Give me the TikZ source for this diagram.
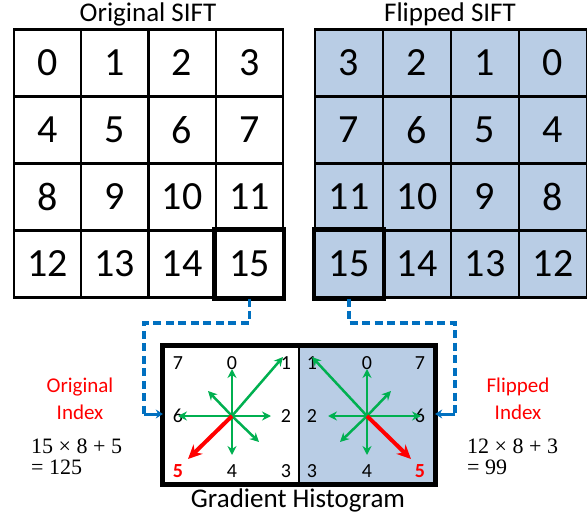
\documentclass[tikz,border=0pt]{standalone}
\usepackage{fontspec}
\setmainfont{Carlito}
\newfontfamily\eqfont{Liberation Serif}
\usetikzlibrary{arrows.meta}
\definecolor{flipblue}{HTML}{B9CDE5}
\definecolor{garrow}{HTML}{00B050}
\definecolor{connblue}{HTML}{0070C0}
\begin{document}
\begin{tikzpicture}[x=1pt,y=-1pt,
  cell/.style={draw=black,line width=2.4pt,minimum width=67.25pt,minimum height=67pt,inner sep=0pt,font=\fontsize{40}{44}\selectfont},
  fcell/.style={cell,fill=flipblue,minimum width=68pt},
  hilite/.style={line width=4.5pt},
  title/.style={font=\fontsize{27}{30}\selectfont,inner sep=0pt},
  histbox/.style={draw=black,line width=2.4pt,minimum width=135pt,minimum height=136pt,inner sep=0pt},
  hlab/.style={font=\fontsize{20}{22}\selectfont,inner sep=0pt},
  rlab/.style={hlab,text=red,font=\fontsize{20}{22}\selectfont\bfseries},
  garr/.style={garrow,line width=2.5pt,-{Stealth[length=9pt,width=9pt,inset=3pt]}},
  rarr/.style={red,line width=4pt,-{Stealth[length=14pt,width=13pt,inset=4.5pt]}},
  bluedash/.style={connblue,line width=3.2pt,dash pattern=on 8pt off 4.5pt},
  bluearr/.style={connblue,line width=3pt,-{Stealth[length=7pt,width=9pt]}},
  idxlab/.style={text=red,font=\fontsize{21}{27}\selectfont,align=center,inner sep=0pt},
  eqlab/.style={font=\eqfont\fontsize{22}{22}\selectfont,anchor=base west,inner sep=0pt}
]
\useasboundingbox (0,0) rectangle (587,516);

% titles
\node[title] (t1) at (148,14) {Original SIFT};
\node[title] (t2) at (450,14) {Flipped SIFT};

% grids
\foreach \r in {0,...,3}{
  \foreach \c in {0,...,3}{
    \pgfmathtruncatemacro\n{4*\r+\c}
    \pgfmathtruncatemacro\m{4*\r+3-\c}
    \node[cell] (o\n) at ({14+67.25*(\c+0.5)},{29.5+67*(\r+0.5)}) {\n};
    \node[fcell] (f\m) at ({315+68*(\c+0.5)},{29.5+67*(\r+0.5)}) {\m};
  }
}
\draw[hilite] (o15.north west) rectangle (o15.south east);
\draw[hilite] (f15.north west) rectangle (f15.south east);

% histogram boxes
\node[histbox] (hl) at (231.5,415) {};
\node[histbox,fill=flipblue] (hr) at (366.5,415) {};
\draw[line width=5pt] (hl.north west) rectangle (hr.south east);
\node[title] (gh) at (298,500) {Gradient Histogram};

% left histogram
\coordinate (cl) at (232,416);
\node[hlab] (l7) at (178,363) {7};
\node[hlab] (l0) at (232,363) {0};
\node[hlab] (l1) at (286,363) {1};
\node[hlab] (l6) at (178,416) {6};
\node[hlab] (l2) at (286,416) {2};
\node[rlab] (l5) at (178,471) {5};
\node[hlab] (l4) at (232,471) {4};
\node[hlab] (l3) at (286,471) {3};
\draw[garr] (cl) -- ++(0,-47);
\draw[garr] (cl) -- ++(51,-59);
\draw[garr] (cl) -- ++(39,0);
\draw[garr] (cl) -- ++(27,26);
\draw[garr] (cl) -- ++(0,39);
\draw[garr] (cl) -- ++(-54,0);
\draw[garr] (cl) -- ++(-24,-25);
\draw[rarr] (cl) -- ++(-44,43);

% right histogram
\coordinate (cr) at (367,416);
\node[hlab] (r1) at (312,363) {1};
\node[hlab] (r0) at (367,363) {0};
\node[hlab] (r7) at (420,363) {7};
\node[hlab] (r2) at (312,416) {2};
\node[hlab] (r6) at (420,416) {6};
\node[hlab] (r3) at (312,471) {3};
\node[hlab] (r4) at (367,471) {4};
\node[rlab] (r5) at (420,471) {5};
\draw[garr] (cr) -- ++(0,-47);
\draw[garr] (cr) -- ++(-55,-59);
\draw[garr] (cr) -- ++(-39,0);
\draw[garr] (cr) -- ++(-27,26);
\draw[garr] (cr) -- ++(0,39);
\draw[garr] (cr) -- ++(54,0);
\draw[garr] (cr) -- ++(24,-25);
\draw[rarr] (cr) -- ++(44,43);

% connectors
\coordinate (la) at (144,323);
\coordinate (lb) at (144,414);
\coordinate (ra) at (455,323);
\coordinate (rb) at (455,414);
\draw[bluedash] (o15.south) |- (la) -- (lb);
\draw[bluearr] (lb) -- (lb -| hl.west);
\draw[bluedash] (f15.south) |- (ra) -- (rb);
\draw[bluearr] (rb) -- (rb -| hr.east);

% index labels
\node[idxlab] (oi) at (80,399) {Original\\Index};
\node[eqlab] (oe1) at (31,453) {15 × 8 + 5};
\node[eqlab] (oe2) at (31,474) {= 125};
\node[idxlab] (fi) at (518,399) {Flipped\\Index};
\node[eqlab] (fe1) at (467,453) {12 × 8 + 3};
\node[eqlab] (fe2) at (467,474) {= 99};
\end{tikzpicture}
\end{document}
